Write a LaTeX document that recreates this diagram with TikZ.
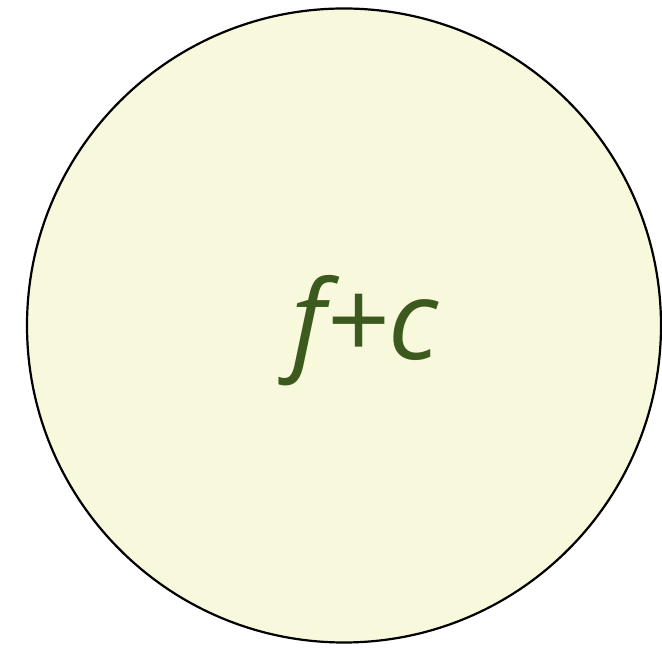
\documentclass[tikz,border=0pt]{standalone}
\usepackage{fontspec}
\setmainfont{Open Sans}
\definecolor{fillc}{HTML}{F8F8DC}
\definecolor{textc}{HTML}{3D5A1E}
\begin{document}
\begin{tikzpicture}[x=1pt,y=1pt,
  circ/.style={draw=black,line width=2.2pt,fill=fillc},
  lbl/.style={text=textc,font=\fontsize{110}{120}\selectfont\itshape,inner sep=0pt,anchor=base}]
\useasboundingbox (0,0) rectangle (662,648);
\path[circ] (344,322.5) circle (317);
\node[lbl] (t) at (365,288) {f+c};
\end{tikzpicture}
\end{document}
